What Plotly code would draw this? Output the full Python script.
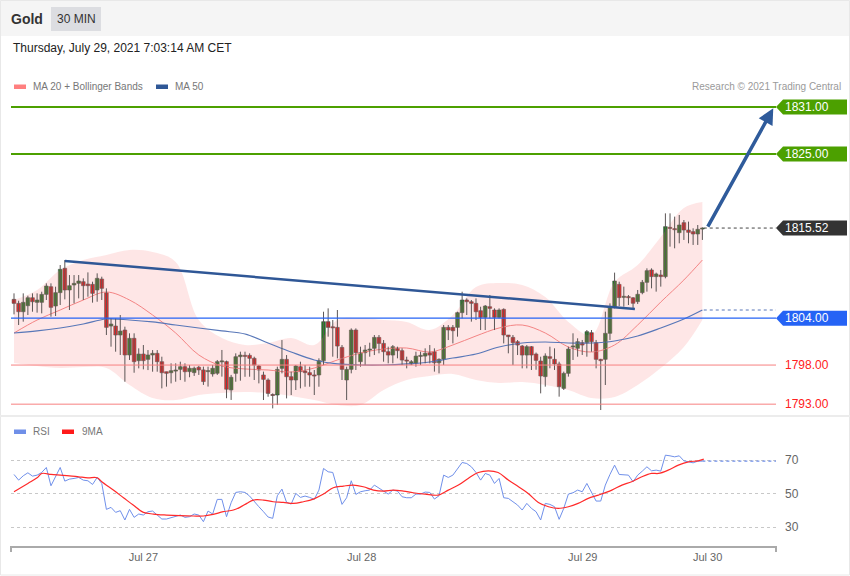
import plotly.graph_objects as go

# ---------------- DATA ----------------
opens = [1806.40,1805.89,1804.82,1805.59,1806.61,1806.02,1806.02,1807.04,1808.02,1805.55,
         1807.26,1810.37,1807.60,1808.24,1808.45,1808.66,1808.36,1808.32,1807.60,1809.00,
         1807.26,1802.99,1802.99,1801.84,1802.48,1799.29,1801.42,1798.56,1799.41,1798.73,
         1799.29,1799.50,1798.43,1797.15,1797.02,1797.24,1797.45,1797.79,1797.16,1797.03,
         1797.72,1797.38,1797.20,1796.86,1796.95,1798.44,1798.44,1794.82,1796.94,1799.07,
         1799.20,1799.24,1798.86,1797.88,1796.73,1796.09,1794.20,1794.17,1797.58,1798.73,
         1796.51,1796.09,1797.79,1797.24,1797.03,1796.73,1796.73,1798.56,1803.55,1802.85,
         1802.82,1800.26,1796.09,1797.45,1802.48,1798.43,1799.58,1799.95,1800.14,1801.54,
         1800.77,1799.71,1799.28,1800.14,1799.84,1798.60,1798.13,1798.22,1799.15,1799.15,
         1799.58,1799.71,1798.30,1798.73,1802.82,1802.82,1802.82,1804.70,1806.32,1806.10,
         1805.89,1804.95,1804.10,1805.46,1805.04,1804.10,1805.12,1801.84,1801.54,1800.99,
         1800.43,1799.28,1800.35,1799.41,1798.52,1796.52,1799.07,1798.73,1798.14,1795.02,
         1796.94,1800.35,1800.14,1800.86,1800.86,1802.14,1800.86,1798.73,1798.73,1802.06,
         1805.47,1808.32,1806.70,1806.75,1806.60,1806.11,1807.26,1808.58,1810.16,1809.31,
         1809.52,1809.31,1815.60,1815.40,1814.93,1816.21,1815.27,1815.06,1814.76,1815.40]
highs = [1807.17,1806.23,1807.17,1806.87,1807.17,1807.17,1807.38,1808.45,1808.45,1808.02,
         1810.79,1811.43,1809.51,1809.51,1809.51,1809.09,1809.85,1808.66,1809.73,1809.30,
         1807.81,1803.97,1803.97,1804.40,1802.91,1802.06,1802.06,1800.14,1800.56,1799.92,
         1799.92,1799.92,1799.07,1797.15,1798.22,1798.22,1798.43,1798.22,1798.01,1797.80,
         1797.89,1797.80,1797.80,1798.01,1798.65,1799.93,1798.57,1796.74,1799.50,1799.71,
         1799.71,1799.50,1799.07,1798.00,1797.16,1796.30,1794.38,1797.79,1801.20,1799.28,
         1797.16,1798.00,1798.43,1798.00,1797.79,1797.37,1798.86,1804.82,1805.25,1803.76,
         1805.04,1800.56,1797.79,1802.69,1802.69,1800.35,1800.56,1800.86,1801.84,1801.84,
         1801.20,1800.35,1800.56,1800.35,1800.14,1799.07,1798.64,1799.71,1799.71,1800.14,
         1800.56,1800.14,1798.86,1803.12,1803.12,1803.12,1804.82,1807.38,1806.53,1806.32,
         1806.53,1805.46,1805.68,1806.96,1805.25,1805.25,1805.25,1801.84,1801.84,1801.20,
         1800.56,1800.56,1800.43,1799.60,1799.07,1799.50,1800.35,1800.14,1798.43,1797.16,
         1800.35,1802.06,1801.42,1801.21,1802.48,1802.48,1801.21,1798.80,1804.83,1805.89,
         1809.82,1808.66,1808.03,1806.96,1806.70,1807.60,1808.88,1810.37,1810.37,1809.82,
         1810.16,1817.40,1817.40,1816.98,1817.19,1816.55,1816.34,1815.49,1815.91,1815.61]
lows = [1804.48,1803.12,1803.55,1804.40,1804.82,1804.70,1804.61,1806.32,1804.19,1804.27,
        1805.68,1806.40,1805.04,1805.89,1806.53,1806.32,1806.74,1805.98,1806.10,1806.32,
        1801.84,1800.35,1799.71,1799.29,1795.87,1798.65,1797.02,1797.58,1797.45,1797.36,
        1797.15,1797.15,1795.02,1795.24,1795.66,1795.87,1796.08,1795.87,1796.44,1796.61,
        1796.74,1795.46,1795.25,1796.52,1796.74,1796.52,1793.76,1793.54,1795.87,1796.00,
        1796.50,1796.51,1796.09,1795.66,1793.53,1793.95,1792.46,1792.89,1796.94,1793.74,
        1794.17,1794.81,1795.02,1795.23,1795.23,1794.17,1795.23,1798.00,1801.63,1799.07,
        1798.86,1796.09,1793.53,1796.94,1797.37,1797.79,1798.00,1799.07,1799.28,1799.50,
        1798.43,1798.22,1798.22,1798.86,1798.00,1797.58,1798.00,1797.79,1798.00,1798.22,
        1798.22,1797.16,1796.94,1798.00,1801.20,1800.77,1801.63,1803.97,1804.40,1803.55,
        1803.76,1802.48,1802.48,1803.97,1802.48,1803.97,1800.77,1799.50,1798.00,1799.28,
        1797.58,1797.58,1797.37,1797.40,1794.38,1795.24,1797.59,1797.37,1793.96,1794.81,
        1796.52,1798.65,1799.07,1799.29,1799.07,1799.71,1797.58,1792.25,1795.45,1801.21,
        1805.25,1805.55,1805.47,1805.68,1805.20,1805.81,1807.05,1807.39,1807.81,1807.39,
        1808.03,1809.09,1813.14,1812.93,1813.57,1814.00,1813.57,1813.36,1813.36,1814.00]
closes = [1805.89,1804.82,1806.02,1806.61,1806.10,1806.32,1807.04,1808.11,1805.38,1807.26,
          1810.24,1807.60,1808.15,1808.45,1808.75,1808.15,1808.15,1807.17,1809.09,1807.81,
          1802.82,1803.25,1801.84,1802.35,1799.29,1801.42,1798.43,1799.41,1798.56,1799.29,
          1799.50,1798.43,1797.02,1796.94,1797.28,1797.36,1797.79,1797.15,1797.59,1797.59,
          1797.38,1795.89,1797.25,1797.59,1798.44,1798.50,1794.91,1796.44,1799.07,1799.28,
          1799.15,1798.86,1798.00,1797.37,1796.17,1794.38,1794.15,1797.45,1798.73,1796.51,
          1796.09,1797.88,1797.16,1797.03,1796.73,1796.60,1798.56,1803.55,1802.82,1802.80,
          1800.43,1797.45,1797.45,1802.48,1799.58,1799.58,1799.92,1800.00,1801.54,1800.77,
          1799.71,1799.28,1800.35,1799.84,1798.64,1798.55,1798.43,1799.15,1799.20,1799.50,
          1799.28,1798.30,1798.73,1802.82,1802.48,1802.39,1804.70,1806.32,1806.10,1805.89,
          1804.82,1804.10,1805.55,1805.25,1804.10,1805.04,1801.84,1801.63,1800.86,1800.56,
          1799.28,1800.35,1799.28,1798.60,1796.60,1799.16,1798.86,1798.14,1795.24,1796.94,
          1800.05,1800.40,1800.99,1800.56,1802.27,1800.99,1798.73,1798.56,1802.06,1805.47,
          1808.75,1806.62,1806.75,1806.62,1805.90,1807.05,1808.58,1810.07,1809.31,1809.65,
          1809.31,1815.70,1815.48,1815.35,1815.91,1815.27,1814.97,1814.76,1815.36,1815.52]

# indicator readings (candle index where read)
band_idx = [0,5,10,15,20,25,30,35,40,45,50,55,60,65,70,75,80,85,90,95,100,105,110,115,120,125,130,135,140,145,149]
bb_upper = [1806.32,1807.60,1810.16,1811.43,1812.07,1812.71,1812.46,1811.18,1803.76,1801.46,
            1800.57,1800.82,1801.46,1800.57,1803.76,1804.02,1803.76,1803.51,1802.48,1804.40,
            1807.98,1808.49,1808.24,1806.70,1803.51,1801.84,1808.62,1810.80,1814.38,1818.08,1818.85]
bb_lower = [1798.26,1797.88,1797.62,1797.75,1797.62,1795.45,1793.79,1793.53,1794.17,1794.43,
            1794.55,1794.43,1794.04,1793.53,1792.89,1792.89,1794.81,1796.09,1796.60,1796.86,
            1796.09,1795.71,1795.83,1795.45,1794.81,1793.79,1793.92,1795.45,1797.62,1800.31,1803.76]
ma20 = [1802.10,1803.76,1805.04,1806.32,1807.34,1806.32,1804.40,1802.10,1799.29,1797.88,
        1797.50,1797.37,1797.11,1797.62,1798.65,1799.54,1800.05,1800.18,1799.67,1800.57,
        1801.72,1802.74,1803.12,1802.10,1800.31,1799.67,1800.57,1803.12,1806.06,1808.88,1811.43]
ma50 = [1802.10,1802.36,1802.74,1803.25,1803.89,1803.76,1803.51,1803.12,1802.74,1802.36,
        1801.97,1800.82,1799.67,1798.65,1798.14,1798.01,1798.01,1798.14,1798.39,1798.90,
        1799.41,1800.31,1800.82,1800.95,1800.82,1800.82,1801.08,1801.72,1802.74,1803.89,1805.04]

rsi = [61.6,58.2,60.8,62.6,60.6,61.2,62.8,65.8,54.8,60.2,
       65.8,57.6,58.8,59.2,59.8,58.2,57.8,55.6,59.8,56.2,
       40.6,41.8,38.8,39.8,34.2,40.6,35.8,37.8,37.2,39.2,
       39.6,37.2,34.8,34.8,35.6,36.2,37.2,35.8,36.2,37.8,
       37.2,33.2,39.6,37.8,46.6,46.6,36.2,44.6,50.8,51.2,
       50.8,48.6,45.2,42.2,39.2,36.0,35.2,48.8,52.8,44.8,
       43.8,50.2,47.8,48.6,47.8,46.6,52.2,65.2,63.2,62.8,
       53.2,43.6,47.6,57.8,49.6,51.2,51.8,52.2,55.2,53.2,
       51.6,49.8,52.2,51.6,48.2,47.6,47.6,49.8,49.8,51.0,
       50.8,46.8,48.8,61.2,59.8,61.2,65.2,68.8,68.2,66.2,
       62.8,58.2,62.2,61.2,56.2,59.2,47.6,47.2,45.2,43.2,
       40.2,44.2,41.2,39.2,34.2,44.2,43.6,42.2,34.6,41.2,
       49.8,50.6,52.2,51.2,56.2,51.2,45.6,45.6,55.2,61.6,
       67.2,61.6,61.6,61.2,57.2,61.2,63.6,66.2,63.8,64.2,
       63.6,73.2,72.8,72.2,72.8,69.8,69.2,68.6,69.6,69.6]
ma9_idx = [0,3,5,6,8,10,12,14,16,18,19,21.5,23.7,25.8,28,30.2,33,35.9,38.8,41,43.1,45.3,47.5,48.9,
           50.4,51.8,54,56.1,58.3,60.5,62.6,64.8,67,69.1,71.3,73.4,75.6,77.8,79.9,82.1,84.3,86.4,
           89,91.8,94,96.2,98.3,100.5,102.7,104.8,107,109.2,111.3,113.5,115.7,117.8,120,122.1,
           124.3,126.5,129.4,131.6,133.7,135.9,138,139.5,141.6,143.8,146,148.1,149.3]
rsi_ma9 = [51.2,56.2,59.6,62.2,61.6,61.2,60.8,60.2,59.6,59.6,57.2,52.2,47.6,43.2,38.8,37.8,37.2,
           36.8,36.6,36.6,37.6,39.2,40.2,41.8,44.2,46.2,46.2,45.2,44.8,44.2,45.2,46.8,49.8,53.6,
           54.6,55.2,54.2,52.2,51.6,52.2,51.6,50.6,49.8,49.2,52.2,55.2,59.2,62.8,63.8,62.8,58.2,
           54.2,50.2,44.8,42.2,41.2,42.2,44.2,47.2,49.2,52.2,55.2,57.2,60.2,62.2,62.2,64.2,67.2,
           69.2,69.8,70.8]

trend_x = [11, 134.4]
trend_y = [1811.31, 1805.17]
arrow_x = [150.0, 164.35]
arrow_y = [1815.52, 1830.83]

resist_levels = [1831.00, 1825.00]
pivot_level = 1804.00
support_levels = [1798.00, 1793.00]
last_price = closes[-1]

x_tick_pos = [28.0, 75.25, 123.1, 150.15]
x_tick_text = ["Jul 27", "Jul 28", "Jul 29", "Jul 30"]
rsi_levels = [30, 50, 70]

# ---------------- LAYOUT HELPERS ----------------
W, H = 850, 576
PL, PR = 11, 776
X_RANGE = [-0.65, 164.94]
MAIN_TOP, MAIN_BOT = 92, 414
MAIN_RANGE = [1791.742, 1832.918]
RSI_TOP, RSI_BOT = 438, 546
RSI_RANGE = [18.57, 83.53]
FONT = "Liberation Sans, Arial, sans-serif"

def py(px):
    return (H - px) / H

def pxp(px):
    return (px - PL) / (PR - PL)

GREEN = "#4ca000"
BLUE = "#2563f5"
RED_LINE = "#f78080"
DARK = "#333333"

fig = go.Figure()

n = len(closes)
idx = list(range(n))

# Bollinger band fill
fig.add_trace(go.Scatter(x=band_idx, y=bb_lower, mode="lines", line=dict(width=0, color="rgba(0,0,0,0)"),
                         hoverinfo="skip", line_shape="spline"))
fig.add_trace(go.Scatter(x=band_idx, y=bb_upper, mode="lines", line=dict(width=0, color="rgba(0,0,0,0)"),
                         fill="tonexty", fillcolor="rgba(250,130,130,0.2)", hoverinfo="skip", line_shape="spline"))
fig.add_trace(go.Scatter(x=band_idx, y=ma20, mode="lines", line=dict(width=1, color="#f48484"),
                         hoverinfo="skip", line_shape="spline"))
fig.add_trace(go.Scatter(x=band_idx, y=ma50, mode="lines", line=dict(width=1.2, color="#5877b8"),
                         hoverinfo="skip", line_shape="spline"))

# wicks
wx, wy = [], []
for i in idx:
    wx += [i, i, None]
    wy += [highs[i], lows[i], None]
fig.add_trace(go.Scatter(x=wx, y=wy, mode="lines", line=dict(width=1, color="#5c5656"), hoverinfo="skip"))

# bodies
base, hgt, cols = [], [], []
for i in idx:
    o, c = opens[i], closes[i]
    h = max(abs(c - o), 0.14)
    base.append((o + c) / 2 - h / 2)
    hgt.append(h)
    cols.append("#1f7f1f" if c >= o else "#e31515")
fig.add_trace(go.Bar(x=idx, y=hgt, base=base, width=0.8, marker=dict(color=cols, line=dict(width=0.6, color="#4a4a4a")),
                     hoverinfo="skip"))

# trend line
fig.add_trace(go.Scatter(x=trend_x, y=trend_y, mode="lines", line=dict(width=2.5, color="#2f5796"), hoverinfo="skip"))

# dotted extensions
fig.add_trace(go.Scatter(x=[n - 1 + 0.3, X_RANGE[1]], y=[last_price, last_price], mode="lines",
                         line=dict(width=1, color="#444", dash="dot"), hoverinfo="skip"))
fig.add_trace(go.Scatter(x=[n - 1 + 0.3, X_RANGE[1]], y=[ma50[-1], ma50[-1]], mode="lines",
                         line=dict(width=1, color="#5877b8", dash="dot"), hoverinfo="skip"))

# RSI panel
fig.add_trace(go.Scatter(x=idx, y=rsi, mode="lines", line=dict(width=1, color="#7090ea"),
                         xaxis="x2", yaxis="y2", hoverinfo="skip"))
fig.add_trace(go.Scatter(x=ma9_idx, y=rsi_ma9, mode="lines", line=dict(width=1.2, color="#ff2a2a"),
                         xaxis="x2", yaxis="y2", hoverinfo="skip", line_shape="spline"))
fig.add_trace(go.Scatter(x=[n - 1, X_RANGE[1]], y=[rsi[-1], rsi[-1]], mode="lines",
                         line=dict(width=1.2, color="#7090ea", dash="dot"), xaxis="x2", yaxis="y2", hoverinfo="skip"))

shapes = []
annotations = []

# header
shapes.append(dict(type="rect", xref="paper", yref="paper", x0=pxp(0), x1=pxp(850), y0=py(36), y1=py(0),
                   fillcolor="#f5f5f5", line=dict(width=0), layer="below"))
shapes.append(dict(type="rect", xref="paper", yref="paper", x0=pxp(51), x1=pxp(101), y0=py(31), y1=py(7),
                   fillcolor="#dcdde1", line=dict(width=0), layer="below"))
# frame and separator
shapes.append(dict(type="rect", xref="paper", yref="paper", x0=pxp(0.5), x1=pxp(849.5), y0=py(575), y1=py(0.5),
                   line=dict(width=1, color="#e8e8e8"), fillcolor="rgba(0,0,0,0)"))
shapes.append(dict(type="line", xref="paper", yref="paper", x0=pxp(0), x1=pxp(850), y0=py(416), y1=py(416),
                   line=dict(width=2, color="#ececec")))

# horizontal levels
for lv in resist_levels:
    shapes.append(dict(type="line", xref="paper", yref="y", x0=0, x1=1, y0=lv, y1=lv,
                       line=dict(width=2, color=GREEN)))
shapes.append(dict(type="line", xref="paper", yref="y", x0=0, x1=1, y0=pivot_level, y1=pivot_level,
                   line=dict(width=1.2, color=BLUE)))
for lv in support_levels:
    shapes.append(dict(type="line", xref="paper", yref="y", x0=0, x1=1, y0=lv, y1=lv,
                       line=dict(width=1, color=RED_LINE)))

# label boxes
box_path = "M 0 0 L 7 7.5 L 71 7.5 L 71 -7.5 L 7 -7.5 Z"
for lv, col in [(resist_levels[0], GREEN), (resist_levels[1], GREEN), (last_price, DARK), (pivot_level, BLUE)]:
    shapes.append(dict(type="path", xref="paper", yref="y", xsizemode="pixel", ysizemode="pixel",
                       xanchor=1, yanchor=lv, path=box_path, fillcolor=col, line=dict(width=0)))
    annotations.append(dict(xref="paper", yref="y", x=pxp(783), y=lv, text=f"{lv:.2f}", showarrow=False,
                            xanchor="left", yanchor="middle", font=dict(size=12, color="white", family=FONT)))
for lv in support_levels:
    annotations.append(dict(xref="paper", yref="y", x=pxp(783), y=lv, text=f"{lv:.2f}", showarrow=False,
                            xanchor="left", yanchor="middle", font=dict(size=12, color="#ff2020", family=FONT)))

# arrow
annotations.append(dict(xref="x", yref="y", axref="x", ayref="y", x=arrow_x[1], y=arrow_y[1],
                        ax=arrow_x[0], ay=arrow_y[0], showarrow=True, arrowhead=2, arrowsize=0.9,
                        arrowwidth=3.5, arrowcolor="#2f5b9b", text=""))

# RSI level labels
for lv in rsi_levels:
    annotations.append(dict(xref="paper", yref="y2", x=pxp(783), y=lv, text=str(lv), showarrow=False,
                            xanchor="left", yanchor="middle", font=dict(size=12, color="#666", family=FONT)))

# axis end ticks for RSI x axis
for xp in [PL, PR]:
    shapes.append(dict(type="line", xref="paper", yref="paper", x0=pxp(xp), x1=pxp(xp), y0=py(546), y1=py(552),
                       line=dict(width=2, color="#aaaaaa")))

# header texts
annotations.append(dict(xref="paper", yref="paper", x=pxp(9), y=py(19), text="<b>Gold</b>", showarrow=False,
                        xanchor="left", yanchor="middle", font=dict(size=14, color="#333", family=FONT)))
annotations.append(dict(xref="paper", yref="paper", x=pxp(76), y=py(19), text="30 MIN", showarrow=False,
                        xanchor="center", yanchor="middle", font=dict(size=12, color="#333", family=FONT)))
annotations.append(dict(xref="paper", yref="paper", x=pxp(11), y=py(48),
                        text="Thursday, July 29, 2021 7:03:14 AM CET", showarrow=False,
                        xanchor="left", yanchor="middle", font=dict(size=12, color="#222", family=FONT)))
# legends
shapes.append(dict(type="rect", xref="paper", yref="paper", x0=pxp(14), x1=pxp(26), y0=py(89), y1=py(84.5),
                   fillcolor="#ff7f7f", line=dict(width=0)))
annotations.append(dict(xref="paper", yref="paper", x=pxp(31), y=py(86.5), text="MA 20 + Bollinger Bands",
                        showarrow=False, xanchor="left", yanchor="middle", font=dict(size=10, color="#777", family=FONT)))
shapes.append(dict(type="rect", xref="paper", yref="paper", x0=pxp(156), x1=pxp(168), y0=py(89), y1=py(84.5),
                   fillcolor="#2f5796", line=dict(width=0)))
annotations.append(dict(xref="paper", yref="paper", x=pxp(173), y=py(86.5), text="MA 50",
                        showarrow=False, xanchor="left", yanchor="middle", font=dict(size=10, color="#777", family=FONT)))
annotations.append(dict(xref="paper", yref="paper", x=pxp(843), y=py(86.5), text="Research © 2021 Trading Central",
                        showarrow=False, xanchor="right", yanchor="middle", font=dict(size=10, color="#9a9a9a", family=FONT)))
shapes.append(dict(type="rect", xref="paper", yref="paper", x0=pxp(14), x1=pxp(26), y0=py(434), y1=py(429.5),
                   fillcolor="#6f8fe8", line=dict(width=0)))
annotations.append(dict(xref="paper", yref="paper", x=pxp(31), y=py(431.5), text="RSI",
                        showarrow=False, xanchor="left", yanchor="middle", font=dict(size=10, color="#777", family=FONT)))
shapes.append(dict(type="rect", xref="paper", yref="paper", x0=pxp(62), x1=pxp(74), y0=py(434), y1=py(429.5),
                   fillcolor="#ff1a1a", line=dict(width=0)))
annotations.append(dict(xref="paper", yref="paper", x=pxp(80), y=py(431.5), text="9MA",
                        showarrow=False, xanchor="left", yanchor="middle", font=dict(size=10, color="#777", family=FONT)))

fig.update_layout(
    width=W, height=H,
    margin=dict(l=PL, r=W - PR, t=0, b=0),
    paper_bgcolor="white", plot_bgcolor="white",
    showlegend=False, hovermode=False,
    font=dict(family=FONT),
    xaxis=dict(domain=[0, 1], range=X_RANGE, anchor="y", showgrid=False, zeroline=False,
               showticklabels=False, showline=False, ticks=""),
    yaxis=dict(domain=[py(MAIN_BOT), py(MAIN_TOP)], range=MAIN_RANGE, showgrid=False, zeroline=False,
               showticklabels=False, showline=False, ticks=""),
    xaxis2=dict(domain=[0, 1], range=X_RANGE, anchor="y2", matches="x", showgrid=False, zeroline=False,
                showline=True, linecolor="#aaaaaa", linewidth=2, ticks="",
                tickmode="array", tickvals=x_tick_pos, ticktext=x_tick_text,
                tickfont=dict(size=11, color="#666", family=FONT)),
    yaxis2=dict(domain=[py(RSI_BOT), py(RSI_TOP)], range=RSI_RANGE, showgrid=True, gridcolor="#c8c8c8",
                griddash="dot", gridwidth=1, tickmode="array", tickvals=rsi_levels, showticklabels=False,
                zeroline=False, showline=False, ticks=""),
    shapes=shapes, annotations=annotations,
)

fig.write_html("out.html", config={"displayModeBar": False},
               post_script="document.body.style.margin='0';document.body.style.padding='0';")
